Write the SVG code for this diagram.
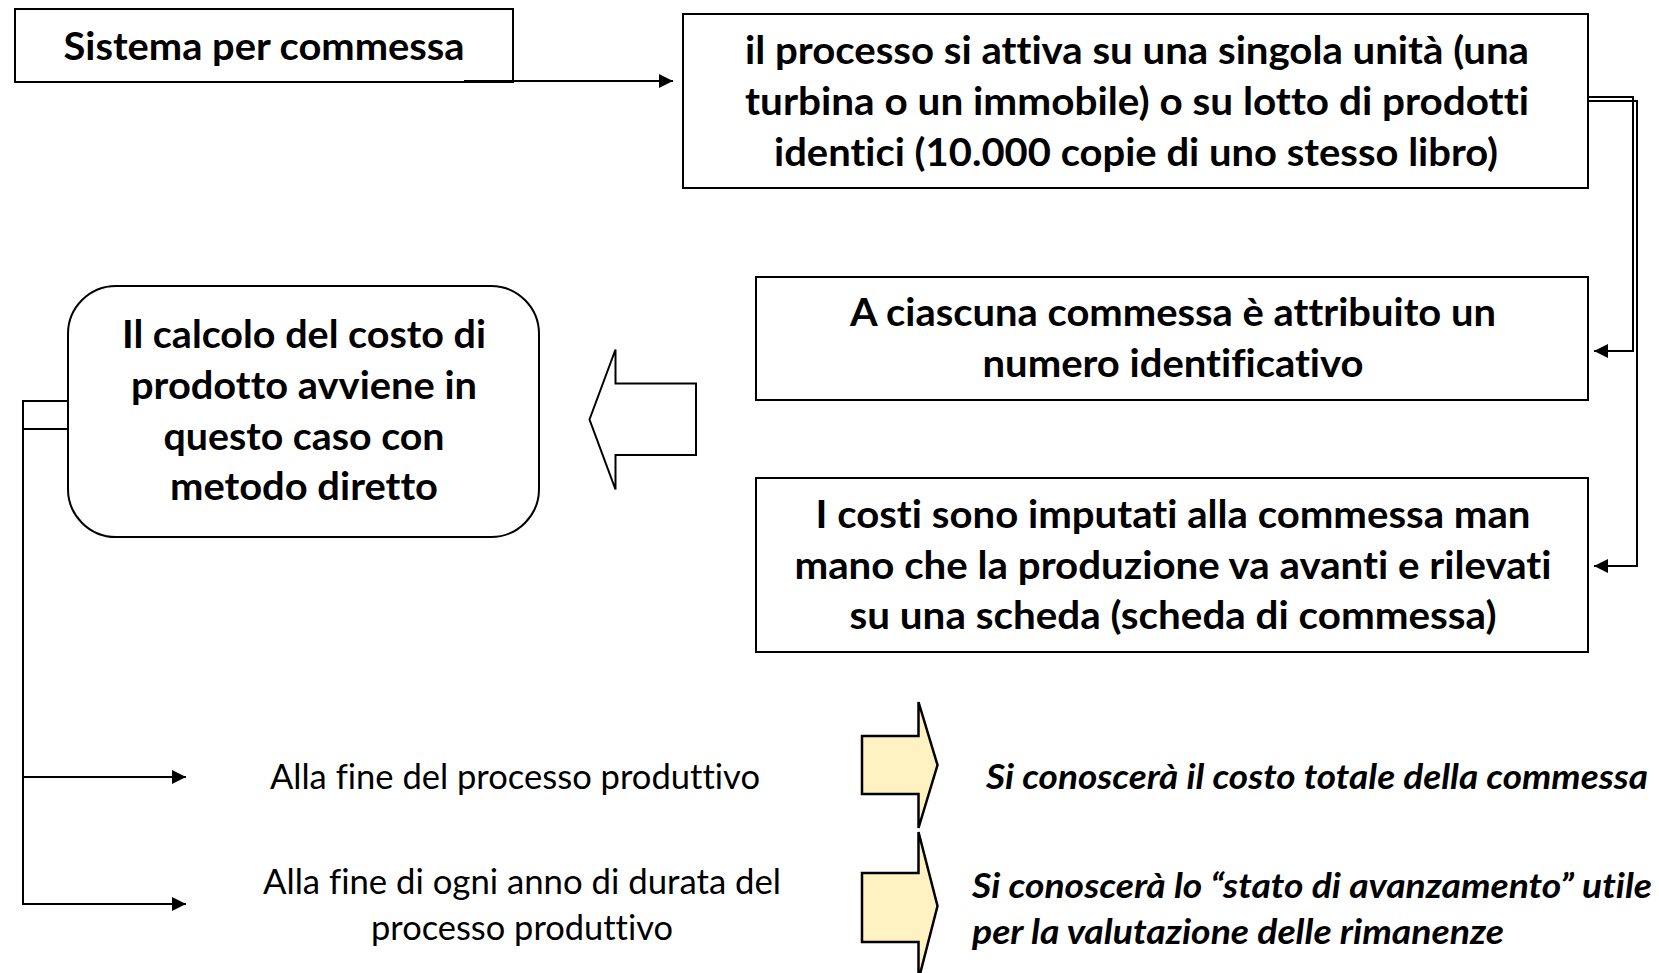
<svg xmlns="http://www.w3.org/2000/svg" width="1659" height="973" viewBox="0 0 1659 973">
<style>
text{font-variant-ligatures:none;font-feature-settings:"liga" 0,"dlig" 0}
.box{fill:#fff;stroke:#000;stroke-width:2}
.b{font-family:Lato,"Liberation Sans",sans-serif;font-weight:700;font-size:39px;fill:#000;text-anchor:middle}
.r{font-family:Lato,"Liberation Sans",sans-serif;font-weight:400;font-size:34px;fill:#000;text-anchor:middle}
.i{font-family:Lato,"Liberation Sans",sans-serif;font-weight:700;font-style:italic;font-size:34px;fill:#000}
.c{fill:none;stroke:#000;stroke-width:2}
.y{fill:#FFF2C2;stroke:#000;stroke-width:2.5;stroke-linejoin:miter}
.h{fill:#fff;stroke:#000;stroke-width:2}
</style>
<defs>
<marker id="ah" viewBox="0 0 10 10" refX="10" refY="5" markerWidth="15" markerHeight="14" markerUnits="userSpaceOnUse" orient="auto"><path d="M0,0 L10,5 L0,10 z" fill="#000"/></marker>
</defs>

<g id="node-sistema">
<rect class="box" x="15" y="9" width="498" height="73"/>
<text class="b" x="264" y="60" textLength="401" lengthAdjust="spacingAndGlyphs">Sistema per commessa</text>
</g>

<g id="node-processo">
<rect class="box" x="683" y="14" width="905" height="174"/>
<text class="b" x="1137" y="64" textLength="784" lengthAdjust="spacingAndGlyphs">il processo si attiva su una singola unità (una</text>
<text class="b" x="1137" y="115" textLength="784" lengthAdjust="spacingAndGlyphs">turbina o un immobile) o su lotto di prodotti</text>
<text class="b" x="1136" y="166" textLength="724" lengthAdjust="spacingAndGlyphs">identici (10.000 copie di uno stesso libro)</text>
</g>

<g id="node-numero">
<rect class="box" x="756" y="277" width="832" height="123"/>
<text class="b" x="1173" y="326" textLength="646" lengthAdjust="spacingAndGlyphs">A ciascuna commessa è attribuito un</text>
<text class="b" x="1173" y="377" textLength="381" lengthAdjust="spacingAndGlyphs">numero identificativo</text>
</g>

<g id="node-costi">
<rect class="box" x="756" y="478" width="832" height="174"/>
<text class="b" x="1173" y="528" textLength="715" lengthAdjust="spacingAndGlyphs">I costi sono imputati alla commessa man</text>
<text class="b" x="1173" y="579" textLength="757" lengthAdjust="spacingAndGlyphs">mano che la produzione va avanti e rilevati</text>
<text class="b" x="1173" y="629" textLength="647" lengthAdjust="spacingAndGlyphs">su una scheda (scheda di commessa)</text>
</g>

<g id="node-calcolo">
<rect class="box" x="68" y="286" width="471" height="251" rx="48" ry="48"/>
<text class="b" x="304" y="348" textLength="364" lengthAdjust="spacingAndGlyphs">Il calcolo del costo di</text>
<text class="b" x="304" y="399" textLength="346" lengthAdjust="spacingAndGlyphs">prodotto avviene in</text>
<text class="b" x="304" y="450" textLength="281" lengthAdjust="spacingAndGlyphs">questo caso con</text>
<text class="b" x="304" y="500" textLength="268" lengthAdjust="spacingAndGlyphs">metodo diretto</text>
</g>

<g id="node-freccia-sinistra">
<polygon class="h" points="589.5,419.5 615.5,349.5 615.5,383.5 696,383.5 696,455 615.5,455 615.5,489.5"/>
</g>

<g id="node-fine-processo">
<text class="r" x="515" y="789" textLength="490" lengthAdjust="spacingAndGlyphs">Alla fine del processo produttivo</text>
</g>

<g id="node-fine-anno">
<text class="r" x="522" y="894" textLength="518" lengthAdjust="spacingAndGlyphs">Alla fine di ogni anno di durata del</text>
<text class="r" x="522" y="940" textLength="302" lengthAdjust="spacingAndGlyphs">processo produttivo</text>
</g>

<g id="node-freccia-gialla-1">
<polygon class="y" points="862,736 918.5,736 918.5,702 937.5,765 918.5,828 918.5,794 862,794"/>
</g>

<g id="node-freccia-gialla-2">
<polygon class="y" points="862,873 918.5,873 918.5,832 937.5,906 918.5,980 918.5,942 862,942"/>
</g>

<g id="node-costo-totale">
<text class="i" x="986" y="789" textLength="662" lengthAdjust="spacingAndGlyphs">Si conoscerà il costo totale della commessa</text>
</g>

<g id="node-stato-avanzamento">
<text class="i" x="972" y="898" textLength="680" lengthAdjust="spacingAndGlyphs">Si conoscerà lo “stato di avanzamento” utile</text>
<text class="i" x="972" y="944" textLength="532" lengthAdjust="spacingAndGlyphs">per la valutazione delle rimanenze</text>
</g>

<g id="connectors">
<path class="c" d="M464,81 L673,81" marker-end="url(#ah)"/>
<path class="c" d="M1588,97 L1633,97 L1633,351 L1594,351" marker-end="url(#ah)"/>
<path class="c" d="M1588,101 L1637,101 L1637,566 L1594,566" marker-end="url(#ah)"/>
<path class="c" d="M68,401 L23,401 L23,777 L186,777" marker-end="url(#ah)"/>
<path class="c" d="M68,429 L23,429 L23,904 L186,904" marker-end="url(#ah)"/>
</g>
</svg>
